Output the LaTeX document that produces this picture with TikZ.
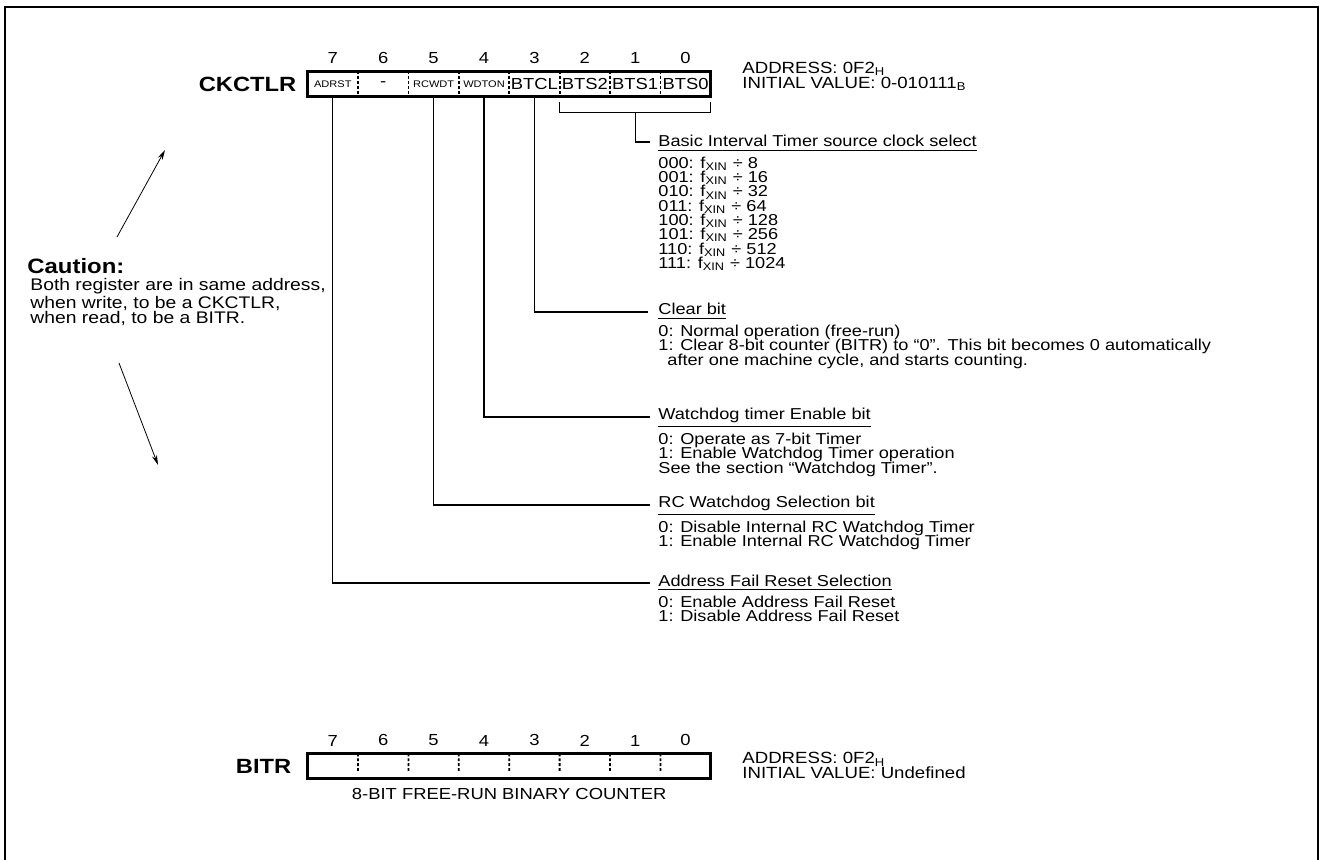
\documentclass[tikz,border=0pt]{standalone}
\usepackage{fontspec}
\setmainfont{Liberation Sans}[FakeStretch=1.15]
\usetikzlibrary{positioning, calc, arrows.meta}

\newcommand{\fx}{f\textsubscript{XIN}}
\newcommand{\tightlines}{\setlength{\lineskiplimit}{-20pt}}

\begin{document}
\begin{tikzpicture}[x=0.5pt, y=-0.5pt,
    regname/.style={font=\fontsize{10.3}{12}\selectfont\bfseries, inner sep=0},
    cell/.style={minimum width=24.8pt, minimum height=12pt, inner sep=0, font=\fontsize{8}{9}\selectfont},
    tinycell/.style={cell, font=\fontsize{4.8}{5}\selectfont},
    bitnum/.style={inner sep=0, font=\fontsize{8}{9}\selectfont},
    regframe/.style={line width=1.4pt},
    divider/.style={line width=0.9pt, dash pattern=on 1.4pt off 1pt},
    addr/.style={anchor=north west, inner sep=0, align=left, font=\fontsize{8.1}{7.3}\selectfont\tightlines},
    title/.style={anchor=base west, inner sep=0, font=\fontsize{7.9}{9}\selectfont},
    desc/.style={inner sep=0, align=left, font=\fontsize{7.9}{7.15}\selectfont\tightlines},
    leader/.style={line width=0.6pt},
    note/.style={-{Stealth[length=5pt, width=2.6pt]}, line width=0.4pt}]

    \useasboundingbox (0,0) rectangle (1321,860);
    \draw[line width=1pt] (5,860) -- (5,7) -- (1318,7) -- (1318,860);

    % CKCTLR register
    \node[tinycell] (b7) at (332.8,84) {ADRST};
    \node[cell, right=0pt of b7] (b6) {-};
    \node[tinycell, right=0pt of b6] (b5) {RCWDT};
    \node[tinycell, right=0pt of b5] (b4) {WDTON};
    \node[cell, right=0pt of b4] (b3) {BTCL};
    \node[cell, right=0pt of b3] (b2) {BTS2};
    \node[cell, right=0pt of b2] (b1) {BTS1};
    \node[cell, right=0pt of b1] (b0) {BTS0};
    \draw[regframe] (b7.north west) rectangle (b0.south east);
    \foreach \c in {b7,b6,b5,b4,b3,b2,b1}
        \draw[divider] (\c.north east) -- (\c.south east);
    \foreach \i in {0,...,7}
        \node[bitnum, above=3.6pt of b\i] (n\i) {\i};
    \node[regname, left=5.5pt of b7] (ckctlr) {CKCTLR};
    \node[addr] (ckaddr) at (742,62) {ADDRESS: 0F2\textsubscript{H}\\INITIAL VALUE: 0-010111\textsubscript{B}};

    % bracket over BTS2..BTS0
    \coordinate (brl) at ([yshift=-3pt]b2.south west);
    \coordinate (brr) at ([yshift=-3pt]b0.south east);
    \draw[leader] (brl) -- ++(0,10) coordinate (brbl) -- (brbl -| brr) coordinate (brbr) -- (brr);

    % bit descriptions
    \node[title] (bitsel) at (658,147) {\underline{Basic Interval Timer source clock select}};
    \draw[leader] ($(brbl)!0.5!(brbr)$) |- ([xshift=-4pt, yshift=2.5pt]bitsel.base west);
    \node[desc, below=2.5pt of bitsel.south west, anchor=north west] (bitlist)
        {000: \fx{} ÷ 8\\001: \fx{} ÷ 16\\010: \fx{} ÷ 32\\011: \fx{} ÷ 64\\100: \fx{} ÷ 128\\101: \fx{} ÷ 256\\110: \fx{} ÷ 512\\111: \fx{} ÷ 1024};

    \node[title] (clr) at (658,315) {\underline{Clear bit}};
    \draw[leader] (b3.south) |- ([xshift=-5pt, yshift=1.5pt]clr.base west);
    \node[desc, below=2.5pt of clr.south west, anchor=north west] (clrdesc)
        {0: Normal operation (free-run)\\1: Clear 8-bit counter (BITR) to “0”. This bit becomes 0 automatically\\\hspace*{4.5pt}after one machine cycle, and starts counting.};

    \node[title] (wdt) at (658,420) {\underline{Watchdog timer Enable bit}};
    \draw[leader] (b4.south) |- ([xshift=-4pt, yshift=1.5pt]wdt.base west);
    \node[desc, below=2.5pt of wdt.south west, anchor=north west] (wdtdesc)
        {0: Operate as 7-bit Timer\\1: Enable Watchdog Timer operation\\See the section “Watchdog Timer”.};

    \node[title] (rcw) at (658,508) {\underline{RC Watchdog Selection bit}};
    \draw[leader] (b5.south) |- ([xshift=-4pt, yshift=1.5pt]rcw.base west);
    \node[desc, below=2.5pt of rcw.south west, anchor=north west] (rcwdesc)
        {0: Disable Internal RC Watchdog Timer\\1: Enable Internal RC Watchdog Timer};

    \node[title] (afr) at (658,586) {\underline{Address Fail Reset Selection}};
    \draw[leader] (b7.south) |- ([xshift=-4pt, yshift=1.5pt]afr.base west);
    \node[desc, below=2.5pt of afr.south west, anchor=north west] (afrdesc)
        {0: Enable Address Fail Reset\\1: Disable Address Fail Reset};

    % caution note
    \node[anchor=west, inner sep=0, font=\fontsize{10.4}{12}\selectfont\bfseries] (caution) at (27,266) {Caution:};
    \node[anchor=north west, inner sep=0, align=left, font=\fontsize{8.4}{7.8}\selectfont] (cautxt) at (30,278)
        {Both register are in same address,\\when write, to be a CKCTLR,\\when read, to be a BITR.};
    \coordinate (upTail) at (117,237);
    \coordinate (upTip) at (165,150);
    \coordinate (dnTail) at (119,363);
    \coordinate (dnTip) at (158,465);
    \draw[note] (upTail) -- (upTip);
    \draw[note] (dnTail) -- (dnTip);

    % BITR register
    \node[cell] (r7) at (332.8,766) {};
    \node[cell, right=0pt of r7] (r6) {};
    \node[cell, right=0pt of r6] (r5) {};
    \node[cell, right=0pt of r5] (r4) {};
    \node[cell, right=0pt of r4] (r3) {};
    \node[cell, right=0pt of r3] (r2) {};
    \node[cell, right=0pt of r2] (r1) {};
    \node[cell, right=0pt of r1] (r0) {};
    \draw[regframe] (r7.north west) rectangle (r0.south east);
    \foreach \c in {r7,r6,r5,r4,r3,r2,r1}
        \draw[divider] (\c.north east) -- ($(\c.north east)!0.7!(\c.south east)$);
    \foreach \i in {0,...,7}
        \node[bitnum, above=3.6pt of r\i] (m\i) {\i};
    \node[regname, left=8pt of r7] (bitr) {BITR};
    \node[bitnum, below=5pt of r4.south east] (cnt) {8-BIT FREE-RUN BINARY COUNTER};
    \node[addr] (bitraddr) at (742,752) {ADDRESS: 0F2\textsubscript{H}\\INITIAL VALUE: Undefined};

\end{tikzpicture}
\end{document}
